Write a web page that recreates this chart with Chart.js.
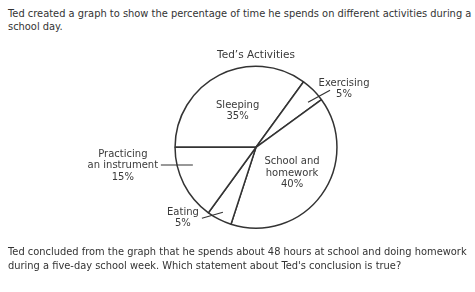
<!DOCTYPE html>
<html>
<head>
<meta charset="utf-8">
<script src="https://cdn.jsdelivr.net/npm/chart.js@4.4.0/dist/chart.umd.min.js"></script>
<style>
  body { margin: 0; background: #fff; }
  #wrap { position: relative; width: 475px; height: 292px; overflow: hidden; }
  #pie { position: absolute; left: 0; top: 0; }
  .q { position: absolute; left: 8px; font-family: "DejaVu Sans", Verdana, sans-serif; font-size: 9.9px; color: #333; white-space: nowrap; }
</style>
</head>
<body>
<div id="wrap">
  <div class="q" style="top:7px; line-height:13px">Ted created a graph to show the percentage of time he spends on different activities during a<br>school day.</div>
  <canvas id="pie" width="475" height="292"></canvas>
  <div class="q" style="top:245px; line-height:14px">Ted concluded from the graph that he spends about 48 hours at school and doing homework<br>during a five-day school week. Which statement about Ted's conclusion is true?</div>
</div>
<script>
const chartTitle = "Ted\u2019s Activities";
const activities = ["Sleeping", "Exercising", "School and homework", "Eating", "Practicing an instrument"];
const labelLines = [["Sleeping"], ["Exercising"], ["School and", "homework"], ["Eating"], ["Practicing", "an instrument"]];
const percents = [35, 5, 40, 5, 15];

// where each slice label goes: inside (polar) or outside with a leader line
const labelPlacement = [
  { t: 0.5, rf: 0.5 },
  { t: 0.73, rf: 0.85, leader: [22, -12], text: [14, -7] },
  { t: 0.5, rf: 0.55 },
  { t: 0.5, rf: 0.9, leader: [-21, 6], text: [-19, -6] },
  { t: 0.71, rf: 0.81, leader: [-32, 0], text: [-38, -11] }
];

const sliceLabels = {
  id: "sliceLabels",
  afterDraw(chart) {
    const ctx = chart.ctx;
    const arcs = chart.getDatasetMeta(0).data;
    ctx.save();
    ctx.font = "10px 'DejaVu Sans', Verdana, sans-serif";
    ctx.fillStyle = "#3a3a3a";
    ctx.textAlign = "center";
    ctx.textBaseline = "middle";
    ctx.strokeStyle = "#333";
    ctx.lineWidth = 1.2;
    arcs.forEach((arc, i) => {
      const p = labelPlacement[i];
      const a = arc.startAngle + p.t * (arc.endAngle - arc.startAngle);
      const x0 = arc.x + p.rf * arc.outerRadius * Math.cos(a);
      const y0 = arc.y + p.rf * arc.outerRadius * Math.sin(a);
      const lines = labelLines[i].concat([percents[i] + "%"]);
      let tx = x0, ty = y0;
      if (p.leader) {
        const x1 = x0 + p.leader[0], y1 = y0 + p.leader[1];
        ctx.beginPath();
        ctx.moveTo(x0, y0);
        ctx.lineTo(x1, y1);
        ctx.stroke();
        tx = x1 + p.text[0];
        ty = y1 + p.text[1];
      } else {
        ty = y0 - (lines.length - 1) * 12 / 2;
      }
      lines.forEach((s, j) => ctx.fillText(s, tx, ty + j * 11.5));
    });
    ctx.restore();
  }
};

new Chart(document.getElementById("pie"), {
  type: "pie",
  data: {
    labels: activities,
    datasets: [{
      data: percents,
      backgroundColor: "#fff",
      borderColor: "#333",
      borderWidth: 1.5
    }]
  },
  options: {
    responsive: false,
    animation: false,
    rotation: -90,
    layout: { padding: { left: 174, right: 137, top: 0, bottom: 63 } },
    plugins: {
      legend: { display: false },
      tooltip: { enabled: false },
      title: {
        display: true,
        text: chartTitle,
        color: "#3a3a3a",
        font: { family: "'DejaVu Sans', Verdana, sans-serif", size: 10.5, weight: "normal" },
        padding: { top: 49, bottom: 4 }
      }
    }
  },
  plugins: [sliceLabels]
});
</script>
</body>
</html>
